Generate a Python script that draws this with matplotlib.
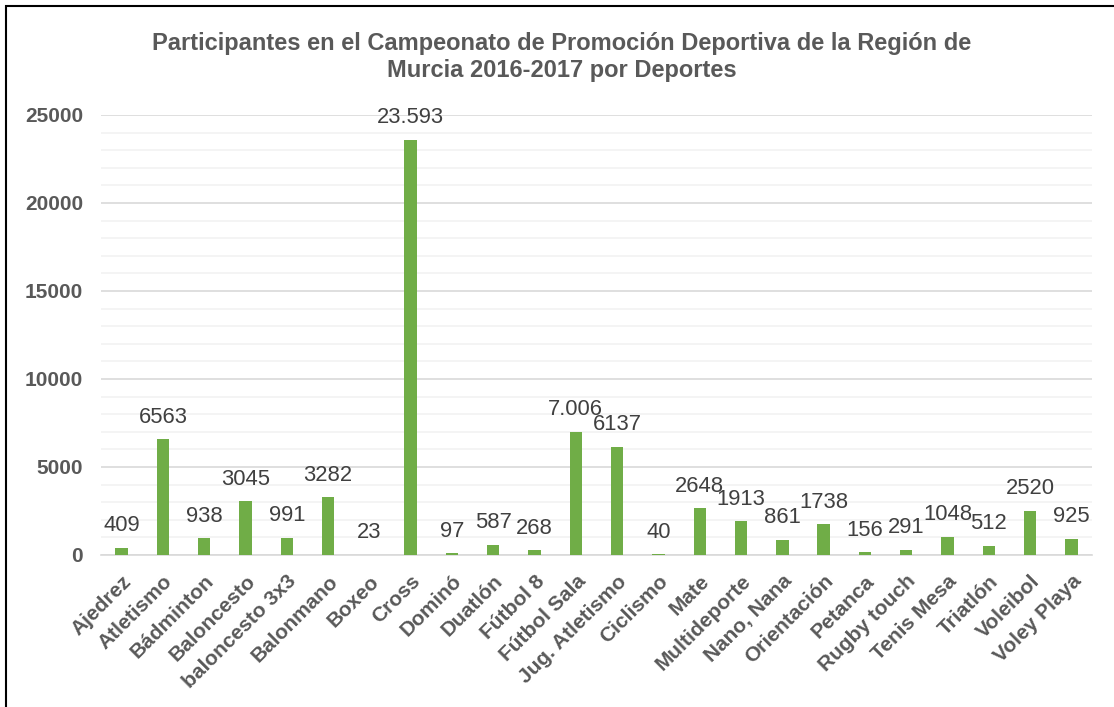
import matplotlib.pyplot as plt
from matplotlib.ticker import MultipleLocator
from matplotlib.patches import Rectangle

plt.rcParams['font.family'] = ['Liberation Sans', 'DejaVu Sans']

deportes = ["Ajedrez", "Atletismo", "Bádminton", "Baloncesto", "baloncesto 3x3",
            "Balonmano", "Boxeo", "Cross", "Dominó", "Duatlón", "Fútbol 8",
            "Fútbol Sala", "Jug. Atletismo", "Ciclismo", "Mate", "Multideporte",
            "Nano, Nana", "Orientación", "Petanca", "Rugby touch", "Tenis Mesa",
            "Triatlón", "Voleibol", "Voley Playa"]
participantes = [409, 6563, 938, 3045, 991, 3282, 23, 23593, 97, 587, 268,
                 7006, 6137, 40, 2648, 1913, 861, 1738, 156, 291, 1048, 512,
                 2520, 925]
# categories whose value label uses a dot as thousands separator
con_punto = {"Cross", "Fútbol Sala"}

titulo = ("Participantes en el Campeonato de Promoción Deportiva de la Región de\n"
          "Murcia 2016-2017 por Deportes")

W, H = 1114, 707
fig = plt.figure(figsize=(W / 100, H / 100), dpi=100)
ax = fig.add_axes([101 / W, 1 - 555 / H, (1092 - 101) / W, (555 - 115) / H])

gris = "#595959"
x = list(range(len(deportes)))
ax.bar(x, participantes, width=0.3, color="#70AD47", zorder=3)

for xi, nombre, v in zip(x, deportes, participantes):
    txt = f"{v:,}".replace(",", ".") if nombre in con_punto else str(v)
    ax.annotate(txt, (xi, v), xytext=(0, 16), textcoords="offset points",
                ha="center", va="center", fontsize=15.8, color="#404040", zorder=4)

ax.set_xlim(-0.5, len(deportes) - 0.5)
ax.set_ylim(0, 25000)
ax.yaxis.set_major_locator(MultipleLocator(5000))
ax.yaxis.set_minor_locator(MultipleLocator(1000))
ax.grid(which="major", axis="y", color="#D9D9D9", linewidth=1.2, zorder=0)
ax.grid(which="minor", axis="y", color="#F2F2F2", linewidth=1.2, zorder=0)

for s in ["top", "right", "left"]:
    ax.spines[s].set_visible(False)
ax.spines["bottom"].set_color("#D9D9D9")
ax.spines["bottom"].set_linewidth(1.2)
ax.tick_params(axis="both", which="both", length=0)
ax.tick_params(axis="y", pad=13)
ax.tick_params(axis="x", pad=12)

ax.set_xticks(x)
ax.set_xticklabels(deportes, rotation=45, ha="right", rotation_mode="anchor",
                   fontsize=15, fontweight="bold", color=gris)
for lbl in ax.get_yticklabels():
    lbl.set_fontsize(15)
    lbl.set_fontweight("bold")
    lbl.set_color(gris)

fig.text(562 / W, 1 - 57 / H, titulo, ha="center", va="center", fontsize=17,
         fontweight="bold", color=gris, linespacing=1.18)

# chart frame
fig.patches.append(Rectangle((6 / W, -0.05), 1.2, 1 - 6 / H + 0.05,
                             transform=fig.transFigure, fill=False,
                             edgecolor="black", linewidth=1.5))

fig.savefig("out.png", dpi=100)
